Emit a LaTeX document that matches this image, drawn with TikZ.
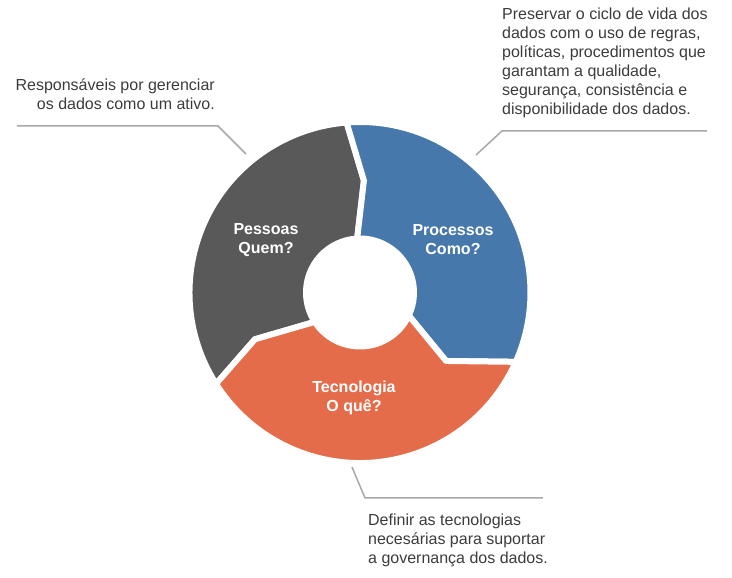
\documentclass[tikz,border=0pt]{standalone}
\usepackage{fontspec}
\setmainfont{Liberation Sans}
\usepackage{xcolor}
\usepackage{tikz}

\definecolor{pessoascor}{RGB}{89,89,89}
\definecolor{processoscor}{RGB}{70,120,172}
\definecolor{tecnologiacor}{RGB}{228,108,74}
\definecolor{textocor}{RGB}{60,60,60}
\definecolor{linhacor}{RGB}{168,168,168}

\begin{document}
\begin{tikzpicture}[x=1pt, y=1pt,
        fatia/.style={draw=white, line width=6pt, line join=round},
        rotulo/.style={text=white, font=\bfseries\fontsize{16}{19}\selectfont, align=center},
        nota/.style={text=textocor, font=\fontsize{16}{19}\selectfont, inner sep=0pt},
        guia/.style={draw=linhacor, line width=1.5pt}]

            \useasboundingbox (-360,-285.5) rectangle (372,292.5);

            \path[fatia, fill=pessoascor] (212.4:170.5) arc[start angle=212.4, end angle=94.5, radius=170.5] -- (88:112) -- (93:54) arc[start angle=93, end angle=213, radius=54] -- (204:115) -- cycle;
            \path[fatia, fill=processoscor] (94.5:170.5) arc[start angle=94.5, end angle=-24, radius=170.5] -- (-38.5:110) -- (-25.3:54) arc[start angle=-25.3, end angle=93, radius=54] -- (88:112) -- cycle;
            \path[fatia, fill=tecnologiacor] (-24:170.5) arc[start angle=-24, end angle=-147.6, radius=170.5] -- (-156:115) -- (-147:54) arc[start angle=-147, end angle=-25.3, radius=54] -- (-38.5:110) -- cycle;

            \node[rotulo] (pessoas) at (-94,52.5) {Pessoas\\Quem?};
            \node[rotulo] (processos) at (93,52.5) {Processos\\Como?};
            \node[rotulo] (tecnologia) at (-6,-105.5) {Tecnologia\\O quê?};

            \node[nota, anchor=east, align=right] (notapessoas) at (-145,198.5) {Responsáveis por gerenciar\\os dados como um ativo.};
            \node[nota, anchor=west, align=left] (notaprocessos) at (142,230) {Preservar o ciclo de vida dos\\dados com o uso de regras,\\políticas, procedimentos que\\garantam a qualidade,\\segurança, consistência e\\disponibilidade dos dados.};
            \node[nota, anchor=west, align=left] (notatecnologia) at (8,-247.5) {Definir as tecnologias\\necesárias para suportar\\a governança dos dados.};

            \coordinate (guiapessoasa) at (-343,166.5);
            \coordinate (guiapessoasb) at (-142,166.5);
            \coordinate (guiapessoasc) at (-114,138.5);
            \coordinate (guiaprocessosa) at (347,161.5);
            \coordinate (guiaprocessosb) at (142,161.5);
            \coordinate (guiaprocessosc) at (116,137.5);
            \coordinate (guiatecnologiaa) at (-8,-174.5);
            \coordinate (guiatecnologiab) at (5,-205.5);
            \coordinate (guiatecnologiac) at (183,-205.5);

            \draw[guia] (guiapessoasa) -- (guiapessoasb) -- (guiapessoasc);
            \draw[guia] (guiaprocessosa) -- (guiaprocessosb) -- (guiaprocessosc);
            \draw[guia] (guiatecnologiaa) -- (guiatecnologiab) -- (guiatecnologiac);
        \end{tikzpicture}
\end{document}
